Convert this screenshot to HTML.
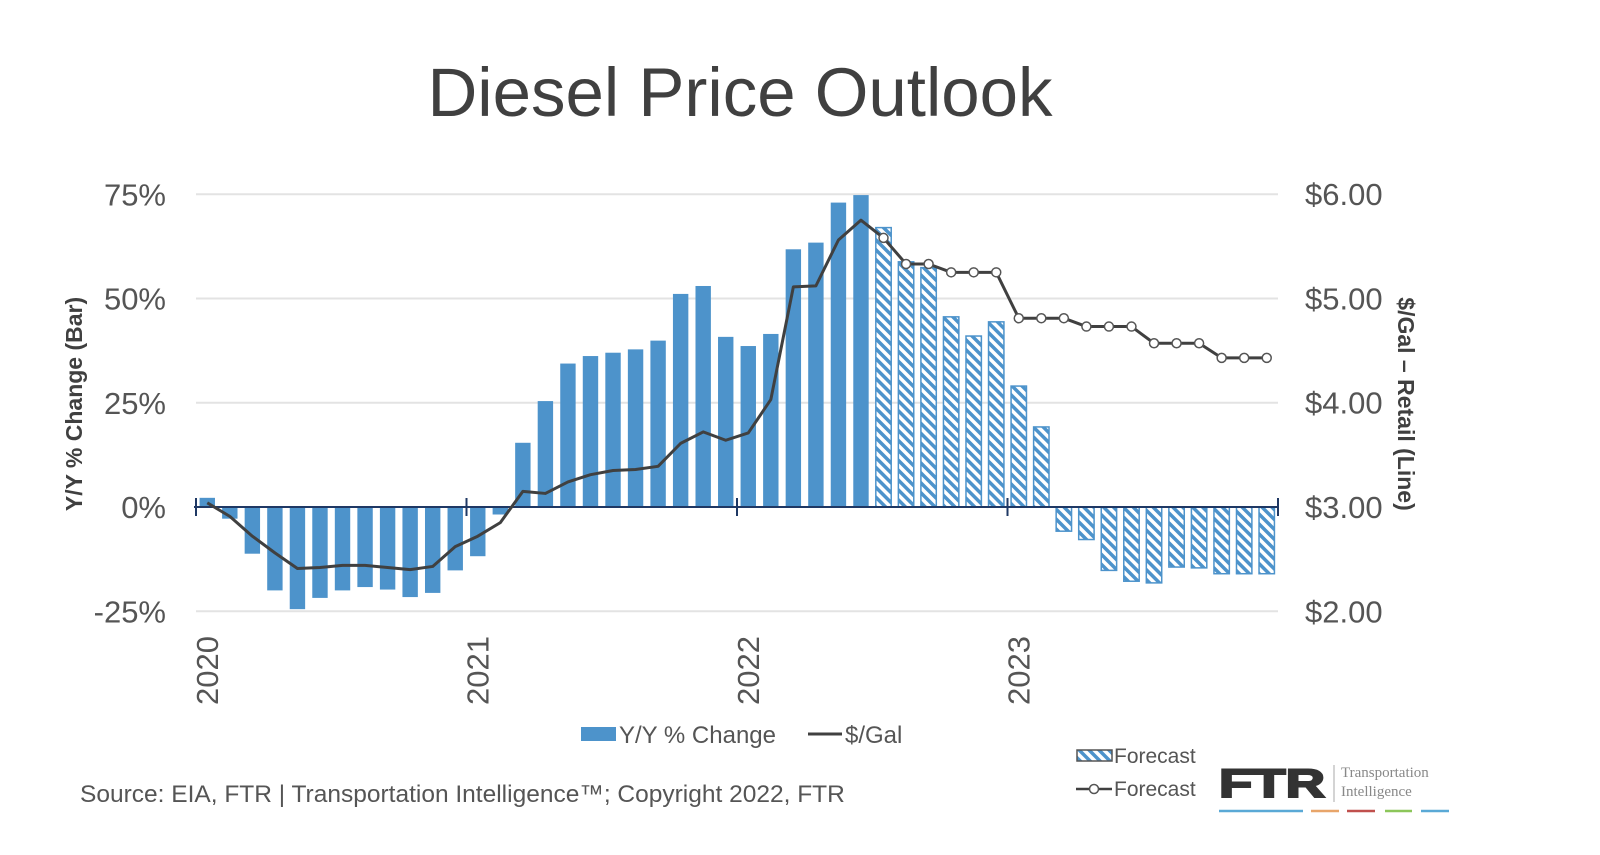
<!DOCTYPE html>
<html><head><meta charset="utf-8"><style>
body{margin:0;background:#fff;width:1600px;height:850px;overflow:hidden;font-family:"Liberation Sans",sans-serif}
</style></head><body>
<svg id="chart" width="1600" height="850" xmlns="http://www.w3.org/2000/svg">
<defs>
<pattern id="hatch" patternUnits="userSpaceOnUse" width="7" height="7" patternTransform="rotate(-45)">
<rect width="7" height="7" fill="#fff"/><rect width="3.5" height="7" fill="#4d93cb"/>
</pattern>
</defs>
<text x="740" y="116" font-size="69" fill="#404040" text-anchor="middle">Diesel Price Outlook</text>
<g id="grid"></g><g id="bars"></g><g id="axis"></g><g id="line"></g><g id="labels"></g>
<text transform="translate(82,404) rotate(-90)" font-size="23" font-weight="bold" fill="#404040" text-anchor="middle">Y/Y % Change (Bar)</text>
<text transform="translate(1398,404) rotate(90)" font-size="23" font-weight="bold" fill="#404040" text-anchor="middle">$/Gal – Retail (Line)</text>
<g><rect x="581" y="727" width="35" height="14" fill="#4d93cb"/><text x="619" y="743" font-size="24" fill="#555">Y/Y % Change</text></g>
<g><line x1="808" y1="734" x2="842" y2="734" stroke="#404040" stroke-width="3"/><text x="845" y="743" font-size="24" fill="#555">$/Gal</text></g>
<g><rect x="1077" y="750" width="35" height="11" fill="url(#hatch)" stroke="#555" stroke-width="1.5"/><text x="1114" y="763" font-size="21" fill="#555">Forecast</text></g>
<g><line x1="1076" y1="789" x2="1112" y2="789" stroke="#404040" stroke-width="2.5"/><circle cx="1094" cy="789" r="4.5" fill="#fff" stroke="#555" stroke-width="1.5"/><text x="1114" y="796" font-size="21" fill="#555">Forecast</text></g>
<text x="80" y="802" font-size="24.5" fill="#555">Source: EIA, FTR | Transportation Intelligence™; Copyright 2022, FTR</text>
<g>
<text x="1219" y="797" font-size="40" font-weight="900" fill="#333" stroke="#333" stroke-width="2" textLength="106" lengthAdjust="spacingAndGlyphs">FTR</text>
<line x1="1334" y1="765" x2="1334" y2="802" stroke="#aaa" stroke-width="1"/>
<text x="1341" y="777" font-size="15" fill="#888" font-family="Liberation Serif,serif">Transportation</text>
<text x="1341" y="796" font-size="15" fill="#888" font-family="Liberation Serif,serif">Intelligence</text>
<line x1="1219" y1="811" x2="1303" y2="811" stroke="#5aa9d6" stroke-width="2.5"/>
<line x1="1311" y1="811" x2="1339" y2="811" stroke="#e8a56a" stroke-width="2.5"/>
<line x1="1347" y1="811" x2="1375" y2="811" stroke="#c0504d" stroke-width="2.5"/>
<line x1="1385" y1="811" x2="1412" y2="811" stroke="#8cc65a" stroke-width="2.5"/>
<line x1="1421" y1="811" x2="1449" y2="811" stroke="#5aa9d6" stroke-width="2.5"/>
</g>
</svg>
<script>
const yoyPct = [2.2,-2.8,-11.2,-20,-24.5,-21.8,-20,-19.2,-19.8,-21.6,-20.6,-15.2,
 -11.8,-1.8,15.4,25.4,34.4,36.2,37,37.8,39.9,51.1,53,40.8,
 38.6,41.5,61.8,63.4,73,74.8,67,58.8,57.4,45.6,41,44.4,
 29,19.2,-5.8,-7.8,-15.2,-17.8,-18.2,-14.4,-14.6,-16,-16,-16];
const pricePerGal = [3.04,2.91,2.72,2.56,2.41,2.42,2.44,2.44,2.42,2.40,2.43,2.62,
 2.72,2.85,3.15,3.13,3.24,3.31,3.35,3.36,3.39,3.61,3.72,3.64,
 3.71,4.03,5.11,5.12,5.56,5.75,5.58,5.33,5.33,5.25,5.25,5.25,
 4.81,4.81,4.81,4.73,4.73,4.73,4.57,4.57,4.57,4.43,4.43,4.43];
const forecastStart = 30;
const years = ["2020","2021","2022","2023"];
const leftTicks = [75,50,25,0,-25];
const leftTickLabels = ["75%","50%","25%","0%","-25%"];
const rightTicks = [6,5,4,3,2];
const rightTickLabels = ["$6.00","$5.00","$4.00","$3.00","$2.00"];

const NS="http://www.w3.org/2000/svg";
const x0=196, plotR=1278, monthW=(plotR-x0)/48;
const yL=v=>507-v*4.17;
const yR=v=>507-(v-3)*104.3;
const xM=i=>x0+monthW*(i+0.5);
function mk(tag,attrs,parent){const e=document.createElementNS(NS,tag);for(const k in attrs)e.setAttribute(k,attrs[k]);parent.appendChild(e);return e;}
const grid=document.getElementById('grid'),bars=document.getElementById('bars'),axis=document.getElementById('axis'),line=document.getElementById('line'),labels=document.getElementById('labels');
leftTicks.forEach((t,i)=>{
 if(t!==0){const g=mk('line',{x1:x0,x2:plotR,y1:yL(t),y2:yL(t),stroke:'#e3e3e3','stroke-width':2},grid);
 
 }
 const tl=mk('text',{x:166,y:yL(t)+11,'font-size':31,fill:'#555','text-anchor':'end'},labels);tl.textContent=leftTickLabels[i];
 
 
});
rightTicks.forEach((t,i)=>{
 const tl=mk('text',{x:1305,y:yR(t)+11,'font-size':31,fill:'#555'},labels);tl.textContent=rightTickLabels[i];
 
 
});
yoyPct.forEach((v,i)=>{
 const y=Math.min(yL(v),yL(0)),h=Math.abs(yL(v)-yL(0));
 const fc=i>=forecastStart;
 const b=mk('rect',{x:xM(i)-7.7,y:y,width:15.4,height:h,fill:fc?'url(#hatch)':'#4d93cb',stroke:fc?'#4d93cb':'none','stroke-width':1.5},bars);
 
 
});
const ax=mk('line',{x1:x0-2,x2:plotR,y1:yL(0),y2:yL(0),stroke:'#1f3864','stroke-width':2},axis);


for(let k=0;k<=4;k++){
 const tx=x0+monthW*12*k;
 const tk=mk('line',{x1:tx,x2:tx,y1:yL(0)-9,y2:yL(0)+9,stroke:'#1f3864','stroke-width':2},axis);
 
 
 if(k<4){const tl=mk('text',{transform:`translate(${tx+22},705) rotate(-90)`,'font-size':31,fill:'#555'},labels);tl.textContent=years[k];
 
 }
}
const pts=pricePerGal.map((v,i)=>xM(i)+','+yR(v)).join(' ');
const pl=mk('polyline',{points:pts,fill:'none',stroke:'#404040','stroke-width':3,'stroke-linejoin':'round'},line);


pricePerGal.forEach((v,i)=>{if(i>=forecastStart){
 const c=mk('circle',{cx:xM(i),cy:yR(v),r:4.5,fill:'#fff',stroke:'#555','stroke-width':1.5},line);
 
 
}});
</script>
</body></html>
